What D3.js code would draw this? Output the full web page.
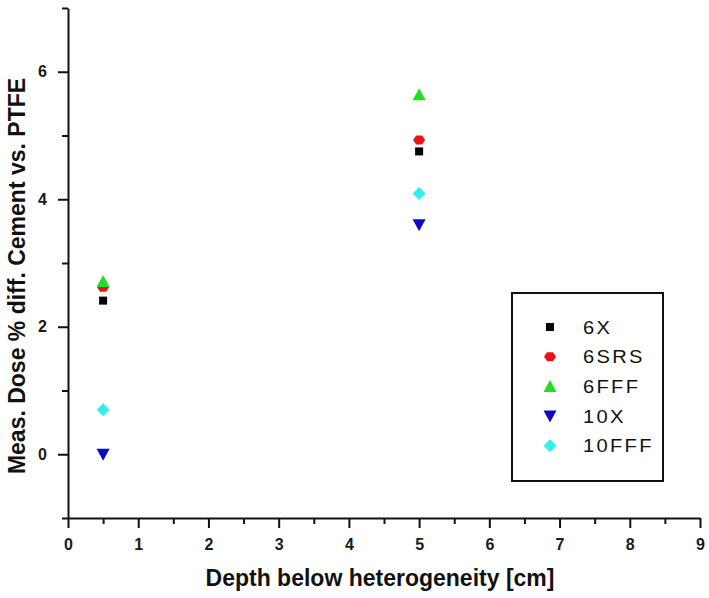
<!DOCTYPE html>
<html><head><meta charset="utf-8">
<script src="https://cdn.jsdelivr.net/npm/d3@7"></script>
<style>body{margin:0;background:#fff;} text{font-family:"Liberation Sans",Arial,sans-serif;}</style>
</head><body>
<svg id="c" width="709" height="598"></svg>
<script>
const seriesNames = ["6X","6SRS","6FFF","10X","10FFF"];
const depths = [0.5, 5];
const v6X    = [2.41, 4.75];
const v6SRS  = [2.62, 4.93];
const v6FFF  = [2.71, 5.64];
const v10X   = [0.0, 3.60];
const v10FFF = [0.70, 4.09];
const xTickLabels = [0,1,2,3,4,5,6,7,8,9];
const yTickLabels = [0,2,4,6];

const seriesValues = [v6X, v6SRS, v6FFF, v10X, v10FFF];
const colors = ["#000000","#ee1111","#22dd22","#0a0ac0","#33eeee"];
const shapes = ["square","hex","tri","tridown","diamond"];

const svg = d3.select("#c");
const x = d3.scaleLinear().domain([0,9]).range([68,700]);
const y = d3.scaleLinear().domain([-1,7]).range([518,8]);

const xMajor = d3.axisBottom(x).tickValues(xTickLabels).tickSize(10).tickSizeOuter(0).tickFormat(d3.format("d"));
const xMinor = d3.axisBottom(x).tickValues(d3.range(0.5,9,1)).tickSize(6).tickFormat("");
const yMajor = d3.axisLeft(y).tickValues(yTickLabels).tickSize(10).tickSizeOuter(0).tickFormat(d3.format("d"));
const yMinor = d3.axisLeft(y).tickValues([-1,1,3,5,7]).tickSize(6).tickFormat("");

function style(g){
  g.attr("font-size",16).attr("font-family","'Liberation Sans',Arial,sans-serif");
  g.selectAll(".domain").attr("stroke","#111").attr("stroke-width",2);
  g.selectAll(".tick line").attr("stroke","#111").attr("stroke-width",2);
  g.selectAll("text").attr("fill","#1a1a1a").attr("font-size",16).attr("font-weight","bold");
}
svg.append("g").attr("transform","translate(0,518)").call(xMinor).call(style).select(".domain").remove();
svg.append("g").attr("transform","translate(0,518)").call(xMajor).call(style)
  .call(g=>g.selectAll("text").attr("dy",null).attr("y",32));
svg.append("g").attr("transform","translate(68,0)").call(yMinor).call(style).select(".domain").remove();
svg.append("g").attr("transform","translate(68,0)").call(yMajor).call(style)
  .call(g=>g.selectAll("text").attr("x",-21));

svg.append("text").attr("x",380).attr("y",586).attr("text-anchor","middle")
  .attr("font-size",23).attr("font-weight","bold").attr("fill","#111")
  .text("Depth below heterogeneity [cm]");
svg.append("text").attr("transform","translate(25,276) rotate(-90)").attr("text-anchor","middle")
  .attr("font-size",23).attr("font-weight","bold").attr("fill","#111")
  .text("Meas. Dose % diff. Cement vs. PTFE");

function symbolPath(shape){
  switch(shape){
    case "square": return "M-4,-4H4V4H-4Z";
    case "hex": return "M-6,0L-3,-4.5H3L6,0L3,4.5H-3Z";
    case "tri": return "M0,-6.5L6.5,5.5H-6.5Z";
    case "tridown": return "M0,6.5L6.5,-5.5H-6.5Z";
    case "diamond": return "M0,-6.5L6.5,0L0,6.5L-6.5,0Z";
  }
}

seriesValues.forEach((vals,i)=>{
  svg.append("g").selectAll("path").data(vals).join("path")
    .attr("d",symbolPath(shapes[i]))
    .attr("transform",(d,j)=>`translate(${x(depths[j])},${y(d)})`)
    .attr("fill",colors[i]);
});

const lg = svg.append("g");
lg.append("rect").attr("x",512).attr("y",293).attr("width",151).attr("height",188)
  .attr("fill","none").attr("stroke","#111").attr("stroke-width",2);
seriesNames.forEach((n,i)=>{
  const yy = 327 + i*29.7;
  lg.append("path").attr("d",symbolPath(shapes[i])).attr("transform",`translate(550,${yy})`).attr("fill",colors[i]);
  lg.append("text").attr("transform",`translate(583,${yy+6.5}) scale(1.15,1)`).attr("font-size",17.5)
    .style("letter-spacing","2px").attr("fill","#111").text(n);
});
</script>
</body></html>
